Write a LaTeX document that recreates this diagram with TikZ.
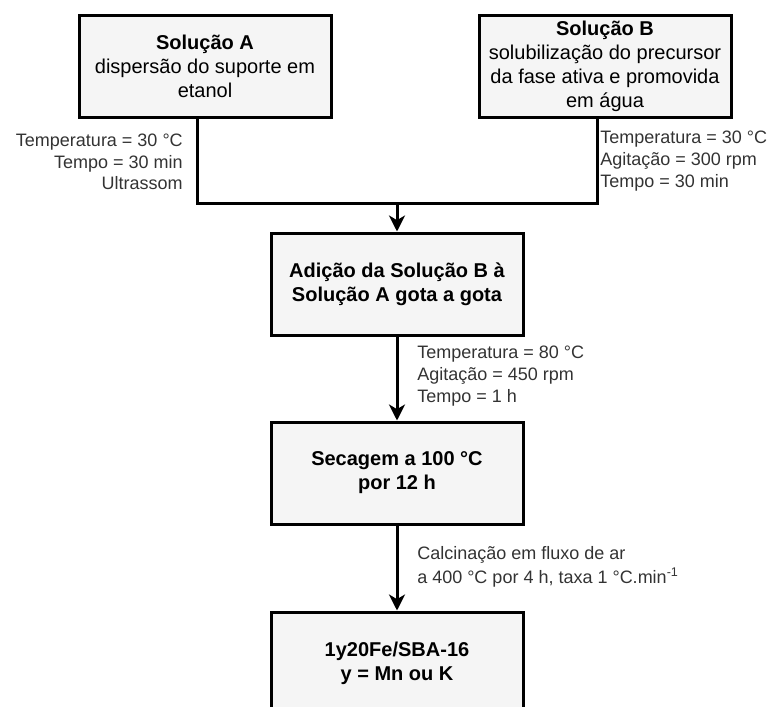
\documentclass[tikz,border=0pt]{standalone}
\usepackage{fontspec}
\setmainfont{Liberation Sans}
\usetikzlibrary{arrows.meta}

\begin{document}
\begin{tikzpicture}[x=0.75pt, y=-0.75pt,
    etapa/.style={draw=black, line width=2.25pt, fill=black!4, minimum width=189pt, minimum height=76.5pt, align=center, inner sep=2pt, font=\fontsize{15}{18}\selectfont},
    nota/.style={inner sep=0pt, text=black!80, font=\fontsize{13.5}{16.2}\selectfont},
    linha/.style={line width=2.25pt},
    seta/.style={line width=2.25pt, -{Stealth[length=12pt, width=12pt, inset=3.5pt]}}]

        \useasboundingbox (0,0) rectangle (779,707);

        % Solutions A and B
        \node[etapa] (solA) at (205,66) {\textbf{Solução A}\\dispersão do suporte em\\etanol};
        \node[etapa] (solB) at (605,66) {\textbf{Solução B}\\solubilização do precursor\\da fase ativa e promovida\\em água};

        % Process steps
        \node[etapa, font=\fontsize{15}{18}\bfseries] (adicao) at (397,284) {Adição da Solução B à\\Solução A gota a gota};
        \node[etapa, font=\fontsize{15}{18}\bfseries] (secagem) at (397,473) {Secagem a 100 °C\\por 12 h};
        \node[etapa, font=\fontsize{15}{18}\bfseries] (produto) at (397,663) {1y20Fe/SBA-16\\y = Mn ou K};

        % Conditions
        \node[nota, anchor=east, align=right] (notaA) at (183,162) {Temperatura = 30 °C\\Tempo = 30 min\ \\Ultrassom};
        \node[nota, anchor=west, align=left] (notaB) at (600,161) {Temperatura = 30 °C\\Agitação = 300 rpm\\Tempo = 30 min};
        \node[nota, anchor=west, align=left] (notaC) at (417,376) {Temperatura = 80 °C\\Agitação = 450 rpm\\Tempo = 1 h};
        \node[nota, anchor=west, align=left] (notaD) at (417,567) {Calcinação em fluxo de ar\\[2pt]a 400 °C por 4 h, taxa 1 °C.min\textsuperscript{-1}};

        % Connectors
        \coordinate (juncao) at (397,203);
        \draw[linha] ([xshift=-6pt]solA.south) |- (juncao);
        \draw[linha] ([xshift=-6pt]solB.south) |- (juncao);
        \draw[seta] (juncao) -- (adicao);
        \draw[seta] (adicao) -- (secagem);
        \draw[seta] (secagem) -- (produto);

    \end{tikzpicture}
\end{document}
